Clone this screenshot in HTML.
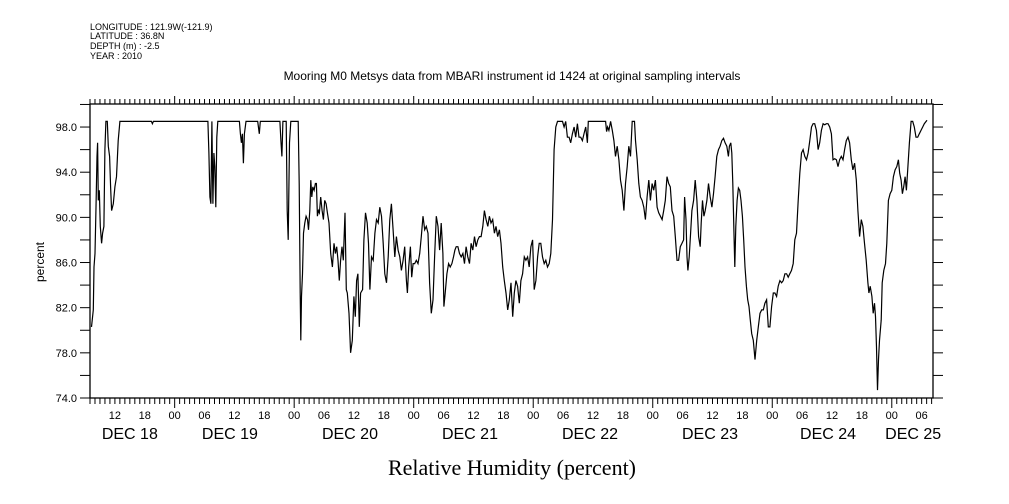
<!DOCTYPE html>
<html><head><meta charset="utf-8"><style>
html,body{margin:0;padding:0;background:#fff;}
svg{display:block;font-family:"Liberation Sans",sans-serif;}
</style></head><body>
<svg width="1009" height="504" viewBox="0 0 1009 504" xmlns="http://www.w3.org/2000/svg">
<g font-size="9" fill="#000">
<text x="90" y="30">LONGITUDE : 121.9W(-121.9)</text>
<text x="90" y="39">LATITUDE : 36.8N</text>
<text x="90" y="49">DEPTH (m) : -2.5</text>
<text x="90" y="59">YEAR : 2010</text>
</g>
<text x="512" y="80" font-size="12" text-anchor="middle">Mooring M0 Metsys data from MBARI instrument id 1424 at original sampling intervals</text>
<text x="512" y="475" font-size="22" text-anchor="middle" font-family="Liberation Serif, serif">Relative Humidity (percent)</text>
<text x="44" y="262" font-size="12" text-anchor="middle" transform="rotate(-90 44 262)">percent</text>
<g id="axes"></g>
<path id="series" fill="none" stroke="#000" stroke-width="1.2"/>
</svg>
<script>
const hours=[0.3,0.67,0.8,1.0,1.2,1.4,1.53,1.67,1.87,2.07,2.33,2.53,2.8,3.0,3.2,3.47,3.67,3.93,4.13,4.33,4.67,5.0,5.33,5.67,6.0,12.33,12.53,12.73,23.67,23.87,24.07,24.27,24.47,24.67,24.87,25.07,25.27,25.47,25.67,30.0,30.2,30.4,30.6,30.8,31.0,31.33,33.67,34.0,34.2,38.13,38.33,38.53,38.73,39.4,39.6,39.8,40.07,40.33,41.8,42.0,42.2,42.33,42.47,42.67,42.87,43.13,43.4,43.67,43.87,44.13,44.33,44.53,44.73,45.0,45.27,45.47,45.67,45.87,46.07,46.33,46.6,46.87,47.13,47.4,47.67,48.0,48.33,48.67,49.0,49.27,49.53,49.8,50.07,50.33,50.6,50.87,51.2,51.47,51.67,52.0,52.33,52.67,53.0,53.27,53.53,53.8,54.07,54.33,54.73,55.0,55.33,55.67,55.93,56.2,
56.53,56.87,57.2,57.53,57.87,58.2,58.53,58.87,59.2,59.53,59.87,60.2,60.53,60.87,61.2,61.53,61.87,62.2,62.53,62.87,63.2,63.53,63.73,64.0,64.33,64.6,64.87,65.2,65.53,65.87,66.2,66.53,66.87,67.2,67.53,67.87,68.2,68.53,68.87,69.2,69.53,69.87,70.2,70.53,70.87,71.07,71.33,71.67,72.0,72.33,72.67,73.0,73.27,73.53,73.87,74.2,74.53,74.87,75.2,75.53,75.87,76.2,76.53,76.87,77.2,77.53,77.87,78.2,78.53,78.87,79.2,79.53,79.87,80.2,80.53,80.87,81.2,81.53,81.87,82.2,82.53,82.87,83.2,83.53,83.87,84.2,84.53,84.87,85.2,85.53,85.87,86.2,86.53,86.87,87.2,87.53,87.87,88.2,88.53,88.87,89.2,89.53,89.87,90.2,90.53,90.87,91.2,91.53,91.87,92.2,92.53,92.87,93.2,93.53,93.87,94.87,95.2,95.53,95.87,96.2,96.53,96.87,97.2,97.53,97.87,98.2,98.53,98.87,99.2,99.53,99.87,100.07,103.53,103.73,103.93,104.2,104.53,104.87,105.2,105.53,105.87,106.2,106.53,106.87,107.2,107.53,107.87,108.2,108.53,108.87,109.33,109.53,109.87,110.2,110.53,110.87,111.2,111.53,111.87,112.2,112.53,112.87,113.2,113.53,113.87,114.2,114.53,114.87,115.2,115.53,115.87,
116.2,116.53,116.87,117.2,117.53,117.87,118.2,118.53,118.87,119.2,119.4,119.67,119.87,120.07,120.33,120.6,120.87,121.2,121.53,121.87,122.2,122.53,122.73,123.0,123.27,123.53,123.87,124.2,124.53,124.87,125.2,125.53,125.87,126.2,126.53,126.87,127.2,127.53,127.87,128.2,128.4,128.67,128.87,129.07,129.27,129.47,129.67,129.93,130.2,130.47,130.73,131.0,131.27,131.53,131.8,132.07,132.33,132.6,132.87,133.2,133.53,133.87,134.2,134.53,134.87,135.2,135.53,135.87,136.2,136.53,136.87,137.2,137.53,137.87,138.2,138.53,138.87,139.2,139.53,139.87,140.2,140.53,140.87,141.2,141.53,141.87,142.2,142.53,142.87,143.2,143.53,143.87,144.2,144.53,144.87,145.2,145.53,145.87,146.2,146.53,146.87,147.2,147.53,147.87,148.2,148.53,148.87,149.2,149.53,149.87,150.2,150.53,150.87,151.2,151.53,151.87,152.2,152.53,152.87,153.2,153.53,153.87,154.2,154.53,154.87,155.2,155.53,155.87,156.2,156.4,156.67,157.0,157.27,157.53,157.73,157.93,158.13,158.33,158.53,158.87,159.07,159.4,159.73,160.0,160.33,160.67,161.0,161.33,161.67,162.0,162.33,162.6,162.87,163.13,163.4,163.67,163.93,164.2,164.53,164.87,165.2,165.53,165.87,166.2,166.53,166.87,167.2,167.53,168.07];
const humidity=[80.3,81.8,85.6,86.8,90.9,95.4,96.6,91.5,92.4,89.2,87.7,88.6,89.2,96.0,98.5,98.5,96.3,95.4,92.7,90.6,91.2,92.7,93.6,96.8,98.5,98.5,98.3,98.5,98.5,95.7,91.8,91.2,98.5,91.2,95.7,94.5,90.9,97.1,98.5,98.5,97.4,96.6,97.4,94.8,97.4,98.5,98.5,97.4,98.5,98.5,96.8,95.4,98.5,98.5,90.6,88.0,96.6,98.5,98.5,93.0,83.3,79.1,83.0,85.0,88.6,89.5,90.1,89.8,88.9,90.6,93.3,91.8,92.7,92.4,93.0,93.0,90.1,90.6,90.4,91.8,90.6,89.8,91.5,91.2,90.4,89.5,86.8,85.6,87.7,86.8,87.4,86.2,84.4,86.2,87.4,86.2,90.4,83.6,83.3,81.5,78.0,79.1,83.0,81.2,84.4,85.0,80.3,83.3,83.6,88.0,90.4,89.5,87.7,83.6,
86.5,86.2,88.6,89.8,89.5,90.9,90.1,87.7,85.0,84.2,86.5,89.8,91.2,88.9,86.5,88.3,87.1,86.5,85.3,86.2,87.4,84.4,83.3,85.6,87.4,84.7,85.9,85.9,86.2,85.9,86.8,88.3,90.1,88.9,89.2,88.6,84.2,81.5,82.7,86.5,90.1,89.2,87.1,89.5,86.8,82.1,83.3,85.0,85.9,85.6,85.9,86.5,87.1,87.4,87.4,86.8,86.5,86.8,85.9,87.4,86.5,85.9,87.7,87.1,88.3,87.4,88.0,88.3,88.3,89.2,90.6,89.8,89.2,90.1,89.5,89.8,88.6,89.2,88.3,88.9,87.7,85.6,84.4,83.3,81.8,82.7,84.2,81.2,83.3,84.4,83.9,82.4,84.4,85.0,86.5,86.2,86.5,85.6,87.4,88.0,83.6,84.4,86.5,87.7,87.7,86.5,85.9,86.2,85.6,85.9,86.8,89.8,96.0,98.0,98.5,98.5,98.0,98.5,97.1,97.1,96.6,97.4,98.0,97.1,98.3,97.1,97.1,96.8,97.4,98.0,96.6,98.5,98.5,97.6,98.0,97.7,98.5,97.7,96.8,95.4,96.3,95.1,93.3,92.4,90.6,93.0,94.5,96.3,95.4,98.5,98.5,96.8,95.1,93.0,91.8,91.5,90.9,89.8,91.8,93.3,91.5,93.0,92.4,93.3,90.9,90.4,90.1,89.8,90.6,91.5,93.6,
93.0,92.7,90.6,90.1,88.3,86.2,86.2,87.4,87.7,88.0,91.8,89.8,86.5,85.3,86.5,88.6,90.6,91.5,93.3,91.5,88.3,87.4,89.5,91.5,90.1,90.6,91.5,93.0,91.8,90.9,92.1,93.6,95.4,96.0,96.3,96.8,97.0,96.6,96.3,95.4,96.3,96.6,95.7,93.0,89.2,85.6,89.2,91.5,92.6,92.4,91.5,90.1,88.0,85.6,83.9,82.7,82.1,80.9,79.7,79.1,77.4,79.1,80.3,81.5,81.8,81.8,82.4,82.7,80.3,80.3,82.1,83.3,83.3,83.0,83.9,84.4,84.2,84.4,85.0,85.0,84.7,85.0,85.3,85.9,88.0,88.6,91.5,93.9,95.7,96.0,95.4,95.1,95.7,96.8,98.0,98.3,98.3,97.7,96.0,96.6,97.7,98.3,98.2,98.3,98.3,98.0,97.4,95.1,95.2,95.1,94.5,95.1,95.4,95.1,96.0,96.8,97.1,96.6,95.1,94.2,94.8,93.3,90.6,88.3,89.8,89.2,87.7,86.2,84.2,83.3,83.9,83.0,81.5,82.4,81.2,78.5,74.7,77.4,79.1,80.9,84.2,85.3,85.9,87.7,91.5,92.1,92.4,93.6,94.2,94.5,95.1,93.9,93.3,92.1,92.7,93.6,92.4,94.2,96.6,98.5,98.5,98.0,97.1,97.1,97.4,97.7,98.0,98.3,98.6];
const yTicks=[74,76,78,80,82,84,86,88,90,92,94,96,98,100];
const yLabels=["74.0","78.0","82.0","86.0","90.0","94.0","98.0"];
const hourLabels=["12","18","00","06","12","18","00","06","12","18","00","06","12","18","00","06","12","18","00","06","12","18","00","06","12","18","00","06","12","18","00","06","12","18","00","06"];
const dayLabels=["DEC 18","DEC 19","DEC 20","DEC 21","DEC 22","DEC 23","DEC 24","DEC 25"];
const dayLabelHours=[8,28.1,52.2,76.3,100.4,124.5,148.2,165.3];

const X0=90,X1=933,Y0=398,PXH=4.98;
const xs=h=>X0+h*PXH;
const ys=v=>398-(v-74)*11.29;
const NS="http://www.w3.org/2000/svg";
const ax=document.getElementById('axes');
function mk(tag,attrs){const e=document.createElementNS(NS,tag);for(const k in attrs)e.setAttribute(k,attrs[k]);ax.appendChild(e);return e;}
const frame=mk('rect',{x:X0,y:104,width:X1-X0,height:Y0-104,fill:'none',stroke:'#000','stroke-width':1.3});


for(let h=0;xs(h)<=X1+0.5;h++){
  const x=xs(h);const hod=(h+7)%24;const major=hod===0;
  const t=mk('line',{x1:x,x2:x,y1:Y0,y2:Y0+(major?10:6),stroke:'#000','stroke-width':1});
  
  
  const t2=mk('line',{x1:x,x2:x,y1:104,y2:104-(major?8:5),stroke:'#000','stroke-width':1});
  
  
}
let li=0;
for(let h=5;xs(h)<=X1;h+=6){
  const tx=mk('text',{x:xs(h),y:Y0+21,'font-size':11,'text-anchor':'middle'});
  tx.textContent=hourLabels[li++];
  
  
}
dayLabels.forEach((d,i)=>{
  const tx=mk('text',{x:xs(dayLabelHours[i]),y:Y0+41,'font-size':16,'text-anchor':'middle'});
  tx.textContent=d;
  
  
});
yTicks.forEach(v=>{
  const y=ys(v);
  const a=mk('line',{x1:X0-10,x2:X0,y1:y,y2:y,stroke:'#000','stroke-width':1});
  
  
  const b=mk('line',{x1:X1,x2:X1+10,y1:y,y2:y,stroke:'#000','stroke-width':1});
  
  
});
yLabels.forEach(s=>{
  const tx=mk('text',{x:X0-13,y:ys(parseFloat(s))+4,'font-size':11,'text-anchor':'end'});
  tx.textContent=s;
  
  
});
let d='';
for(let i=0;i<hours.length;i++){d+=(i?'L':'M')+xs(hours[i]).toFixed(1)+','+ys(humidity[i]).toFixed(1);}
document.getElementById('series').setAttribute('d',d);
</script>
</body></html>
